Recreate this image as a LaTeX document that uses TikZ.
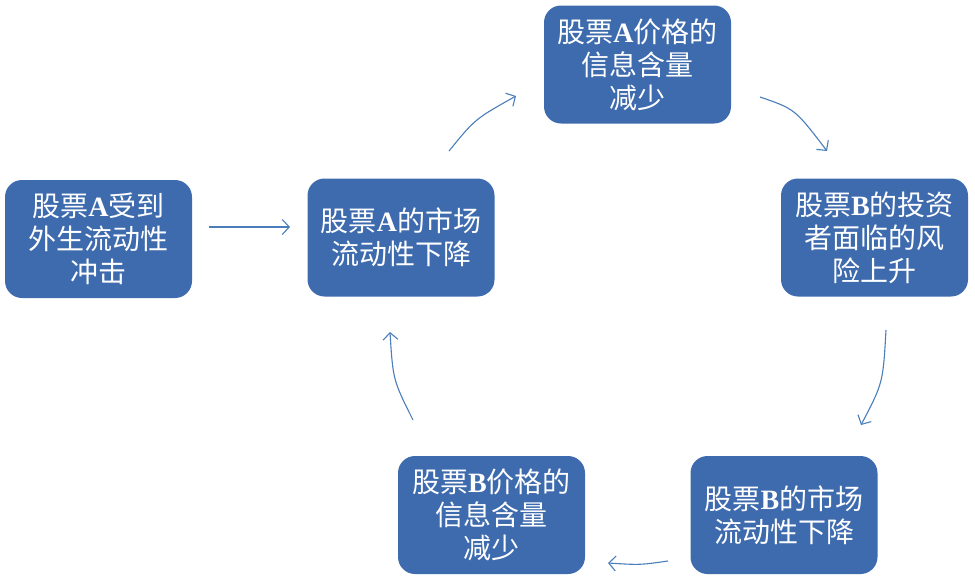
\documentclass[tikz,border=0pt]{standalone}
\usepackage{fontspec}
\setmainfont{Noto Sans CJK SC}
\newfontfamily\tnr{Liberation Serif}
\usetikzlibrary{arrows.meta}
\definecolor{boxblue}{RGB}{62,107,174}
\definecolor{arrowblue}{RGB}{74,126,187}
\newcommand{\Lt}[1]{{\tnr\bfseries #1}}
\tikzset{
  stepbox/.style={fill=boxblue, draw=none, rounded corners=17pt, minimum width=187pt, minimum height=118pt,
    text=white, align=center, inner sep=0pt, font=\fontsize{28pt}{33pt}\selectfont},
  conn/.style={draw=arrowblue, line width=1.1pt, -{Straight Barb[length=7pt,width=15pt,line width=1.1pt]}}
}
\begin{document}
\begin{tikzpicture}[x=1pt,y=-1pt]
\useasboundingbox (0,0) rectangle (975,587);
\node[stepbox] (n1) at (98.5,239) {股票\Lt{A}受到\\外生流动性\\冲击};
\node[stepbox] (n2) at (401,237.5) {股票\Lt{A}的市场\\流动性下降};
\node[stepbox] (n3) at (637.5,64.5) {股票\Lt{A}价格的\\信息含量\\减少};
\node[stepbox] (n4) at (874.5,237.5) {股票\Lt{B}的投资\\者面临的风\\险上升};
\node[stepbox] (n5) at (784,515) {股票\Lt{B}的市场\\流动性下降};
\node[stepbox] (n6) at (491.5,515) {股票\Lt{B}价格的\\信息含量\\减少};
\coordinate (a1) at (209,227); \coordinate (a2) at (290,227);
\coordinate (b1) at (449,151); \coordinate (b2) at (516,96);
\coordinate (c1) at (760,97); \coordinate (c2) at (827,151);
\coordinate (d1) at (886,330); \coordinate (d2) at (861,425);
\coordinate (e1) at (668,561); \coordinate (e2) at (608,563);
\coordinate (f1) at (413,420); \coordinate (f2) at (390,332);
\draw[conn] (a1) -- (a2);
\draw[conn] (b1) .. controls (475,119) .. (b2);
\draw[conn] (c1) .. controls (795,109) .. (c2);
\draw[conn] (d1) .. controls (883,383) .. (d2);
\draw[conn] (e1) .. controls (640,565) .. (e2);
\draw[conn] (f1) .. controls (393,380) .. (f2);
\end{tikzpicture}
\end{document}
